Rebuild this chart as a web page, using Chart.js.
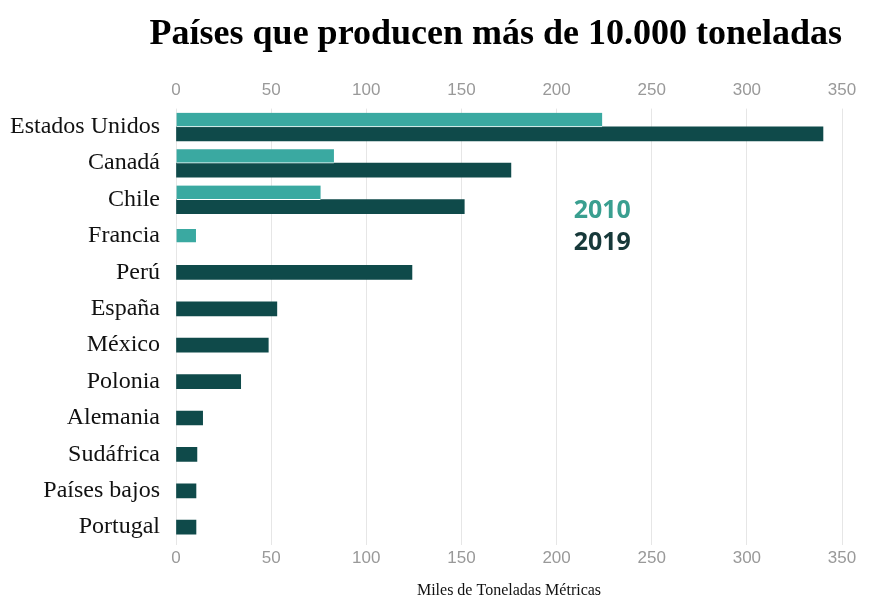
<!DOCTYPE html>
<html>
<head>
<meta charset="utf-8">
<script src="https://cdn.jsdelivr.net/npm/chart.js@4"></script>
<style>
  body { margin: 0; background: #fff; }
  #wrap { width: 878px; height: 600px; }
</style>
</head>
<body>
<div id="wrap"><canvas id="prodChart" width="878" height="600"></canvas></div>
<script>
const paises = ['Estados Unidos', 'Canadá', 'Chile', 'Francia', 'Perú', 'España', 'México',
    'Polonia', 'Alemania', 'Sudáfrica', 'Países bajos', 'Portugal'];
const prod2010 = [224, 83, 76, 10.5, null, null, null, null, null, null, null, null];
const prod2019 = [340, 176, 151.5, null, 124, 53, 48.5, 34, 14, 11, 10.5, 10.5];
const ticksX = [0, 50, 100, 150, 200, 250, 300, 350];

const serif = '"Liberation Serif", "Times New Roman", serif';
const sans = '"Liberation Sans", Arial, sans-serif';

// legend written inside the plot, like the original
const textLegend = {
    id: 'textLegend',
    afterDatasetsDraw(chart) {
        const ctx = chart.ctx;
        const x = chart.scales.x.getPixelForValue(224);
        const y = chart.scales.y;
        ctx.save();
        ctx.font = 'bold 25px "Open Sans", sans-serif';
        ctx.textAlign = 'center';
        ctx.textBaseline = 'middle';
        chart.data.datasets.forEach((ds, i) => {
            ctx.fillStyle = ds.legendColor;
            ctx.fillText(ds.label, x, y.getPixelForValue(2.3) + i * 32);
        });
        ctx.restore();
    }
};

const ctx = document.getElementById('prodChart');

new Chart(ctx, {
    type: 'bar',
    data: {
        labels: paises,
        datasets: [
            {
                label: '2010',
                data: prod2010,
                backgroundColor: '#3aa9a1',
                borderColor: '#ffffff',
                borderWidth: { top: 0, left: 0, right: 0, bottom: 1 },
                borderSkipped: false,
                legendColor: '#3a9f90',
                xAxisID: 'x'
            },
            {
                label: '2019',
                data: prod2019,
                backgroundColor: '#0f4a4a',
                legendColor: '#17393a',
                xAxisID: 'x'
            }
        ]
    },
    options: {
        indexAxis: 'y',
        responsive: false,
        animation: false,
        skipNull: true,
        barThickness: 14,
        layout: { padding: { left: -6, right: 36, top: 0, bottom: 0 } },
        plugins: {
            legend: { display: false },
            tooltip: { enabled: false },
            title: {
                display: true,
                text: 'Países que producen más de 10.000 toneladas',
                align: 'end',
                color: '#000',
                font: { family: serif, size: 36, weight: 'bold' },
                padding: { top: 13, bottom: 16 }
            }
        },
        scales: {
            x: {
                position: 'bottom',
                min: 0,
                max: 350,
                afterBuildTicks: (axis) => { axis.ticks = ticksX.map(v => ({ value: v })); },
                grid: { color: '#e6e6e6', drawTicks: false },
                border: { display: false },
                ticks: { color: '#999', font: { family: sans, size: 17 }, padding: 3 },
                title: {
                    display: true,
                    text: 'Miles de Toneladas Métricas',
                    color: '#111',
                    font: { family: serif, size: 16 },
                    padding: { top: 9, bottom: 0 }
                }
            },
            x2: {
                position: 'top',
                min: 0,
                max: 350,
                afterBuildTicks: (axis) => { axis.ticks = ticksX.map(v => ({ value: v })); },
                grid: { display: false, drawTicks: false },
                border: { display: false },
                ticks: { color: '#999', font: { family: sans, size: 17 }, padding: 8 }
            },
            y: {
                grid: { display: false, drawTicks: false },
                border: { display: false },
                ticks: { color: '#111', font: { family: serif, size: 24 }, padding: 16 }
            }
        }
    },
    plugins: [textLegend]
});
</script>
</body>
</html>
